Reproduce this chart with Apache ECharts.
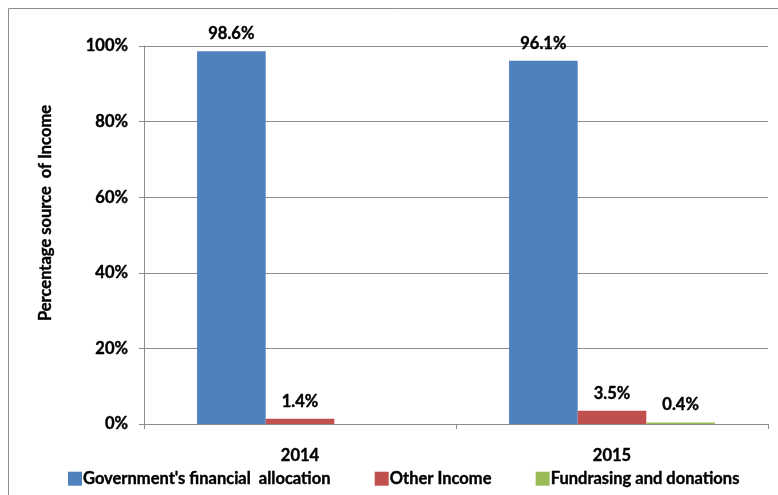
<!DOCTYPE html>
<html>
<head>
<meta charset="utf-8">
<script src="https://cdn.jsdelivr.net/npm/echarts@6/dist/echarts.min.js"></script>
<style>
html,body{margin:0;padding:0;background:#fff;}
#c{width:778px;height:495px;}
</style>
</head>
<body>
<div id="c"></div>
<script>
const categories = ['2014', '2015'];
const seriesNames = ["Government's financial  allocation", 'Other Income', 'Fundrasing and donations'];
const government = [98.6, 96.1];
const otherIncome = [1.4, 3.5];
const fundraising = [null, 0.4];
const yTicks = [0, 20, 40, 60, 80, 100];
const colors = ['#4F81BD', '#C0504D', '#9BBB59'];

const FONT = 'Lato';
const W = 'bold';
const FS = 16.5;
const TXT = {fontFamily: FONT, fontWeight: W, fontSize: FS, color: '#000', textBorderColor: '#000', textBorderWidth: 0.4};
const chart = echarts.init(document.getElementById('c'), null, {renderer: 'canvas'});
const values = [government, otherIncome, fundraising];
const labelCfg = Object.assign({
  show: true, position: 'top', distance: 9,
  formatter: p => p.value.toFixed(1) + '%'
}, TXT);
chart.setOption({
  animation: false,
  graphic: [{
    type: 'rect', shape: {x: 8.5, y: 8.5, width: 800, height: 600},
    style: {fill: 'none', stroke: '#8c8c8c', lineWidth: 1}, z: -1
  }],
  grid: {left: 144, right: 10, top: 46, bottom: 71},
  legend: {
    left: 68, top: 470, padding: 0, itemWidth: 14, itemHeight: 14, itemGap: 44,
    icon: 'rect',
    textStyle: Object.assign({padding: [0, 0, 0, -4]}, TXT),
    data: seriesNames
  },
  xAxis: {
    type: 'category', data: categories,
    axisLine: {lineStyle: {color: '#8c8c8c'}},
    axisTick: {show: true, length: 5, lineStyle: {color: '#8c8c8c'}},
    axisLabel: Object.assign({margin: 23}, TXT)
  },
  yAxis: {
    type: 'value', min: yTicks[0], max: yTicks[yTicks.length - 1], interval: 20,
    name: 'Percentage source  of Income', nameLocation: 'middle', nameGap: 90,
    nameTextStyle: Object.assign({padding: [0, 0, 0, 44]}, TXT),
    axisLine: {show: true, lineStyle: {color: '#8c8c8c'}},
    axisTick: {show: true, length: 5, lineStyle: {color: '#8c8c8c'}},
    splitLine: {lineStyle: {color: '#8c8c8c'}},
    axisLabel: Object.assign({margin: 16, formatter: v => v + '%'}, TXT)
  },
  series: seriesNames.map((n, i) => ({
    name: n, type: 'bar', data: values[i],
    barGap: '0%', barCategoryGap: '34%',
    itemStyle: {color: colors[i]},
    label: labelCfg
  }))
});
</script>
</body>
</html>
